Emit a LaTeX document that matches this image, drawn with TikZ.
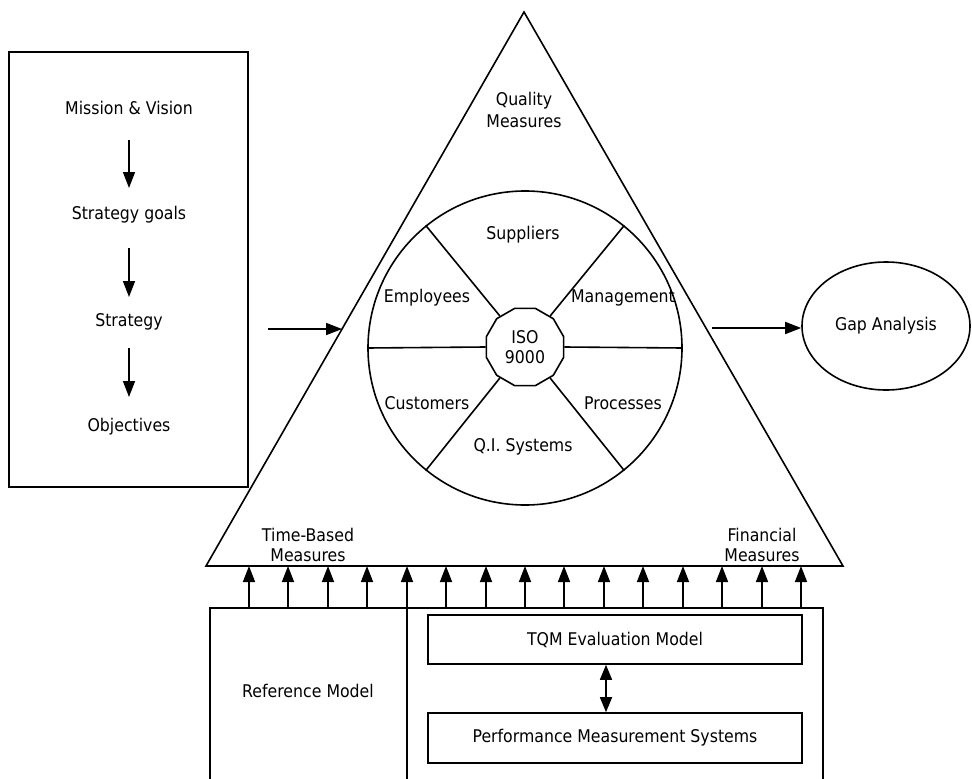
\documentclass[tikz,border=0pt]{standalone}
\usepackage{fontspec}
\setmainfont{DejaVu Sans}[FakeStretch=0.9]
\usetikzlibrary{arrows.meta,shapes.geometric}
\newcommand\fs{\fontsize{17.5}{20}\selectfont}
\begin{document}
\begin{tikzpicture}[x=1pt,y=-1pt,line width=1.6pt,
  arr/.style={-{Triangle[length=16pt,width=12pt]}},
  dbl/.style={{Triangle[length=15pt,width=12pt]}-{Triangle[length=15pt,width=12pt]}},
  lbl/.style={font=\fs,align=center,inner sep=0pt},
  sl/.style={lbl,text height=12.5pt,text depth=3.5pt},
  box/.style={draw,rectangle,inner sep=0pt}]
\clip (0,0) rectangle (972,779);
\fill[white] (0,0) rectangle (972,779);
% left box
\node[box,minimum width=239pt,minimum height=435pt] (leftbox) at (128.5,269.5) {};
\node[sl] (mv) at (129,110) {Mission \& Vision};
\node[sl] (sg) at (129,215) {Strategy goals};
\node[sl] (st) at (129,322) {Strategy};
\node[sl] (ob) at (129,427) {Objectives};
\draw[arr,shorten <=30pt,shorten >=27pt] (mv.center) -- (sg.center);
\draw[arr,shorten <=33pt,shorten >=25pt] (sg.center) -- (st.center);
\draw[arr,shorten <=26pt,shorten >=30pt] (st.center) -- (ob.center);
% triangle
\coordinate (apex) at (524,12);
\coordinate (bl) at (206,566);
\coordinate (br) at (843,566);
\draw[line join=miter] (apex) -- (bl) -- (br) -- cycle;
\node[lbl] (qm) at (524,110) {Quality\\[2pt]Measures};
\node[lbl] (tb) at (308,545) {Time-Based\\Measures};
\node[lbl] (fm) at (762,545) {Financial\\Measures};
% wheel
\node[circle,draw,minimum size=314pt,inner sep=0pt] (wheel) at (525,348) {};
\node[regular polygon,regular polygon sides=12,draw,minimum size=80pt,lbl] (iso) at (525,347) {ISO\\9000};
\foreach \a in {0,51,129,180,231,309} \draw (iso.\a) -- (wheel.\a);
\node[sl] (sup) at (523,235) {Suppliers};
\node[sl] (emp) at (427,298) {Employees};
\node[sl] (man) at (623,298) {Management};
\node[sl] (cus) at (427,405) {Customers};
\node[sl] (pro) at (623,405) {Processes};
\node[sl] (qis) at (523,447) {Q.I. Systems};
% side arrows
\coordinate (la) at (268,329);
\coordinate (lfar) at (450,329);
\coordinate (lt) at (intersection of apex--bl and la--lfar);
\draw[arr] (la) -- (lt);
\node[ellipse,draw,minimum width=168pt,minimum height=128pt,lbl] (gap) at (886,326) {Gap Analysis};
\coordinate (ra) at (712,328);
\draw[arr] (ra) -- (ra -| gap.west);
% bottom box
\node[box,minimum width=613pt,minimum height=200pt,anchor=north west] (base) at (209,607) {};
\foreach \i in {0,...,14}{
  \pgfmathsetmacro\xx{round(249+39.43*\i)}
  \coordinate (b\i) at (\xx,607);
  \coordinate (t\i) at (\xx,566);
  \draw[arr] (b\i) -- (t\i);
}
\coordinate (dv) at (b4 |- 0,800);
\draw (b4) -- (dv);
\node[sl] (ref) at (308,693) {Reference Model};
\node[box,minimum width=374pt,minimum height=49pt,lbl] (tqm) at (615,639.5) {TQM Evaluation Model};
\node[box,minimum width=374pt,minimum height=50pt,lbl] (pms) at (615,738) {Performance Measurement Systems};
\draw[dbl] ([xshift=-9pt]tqm.south) -- ([xshift=-9pt]pms.north);
\end{tikzpicture}
\end{document}
